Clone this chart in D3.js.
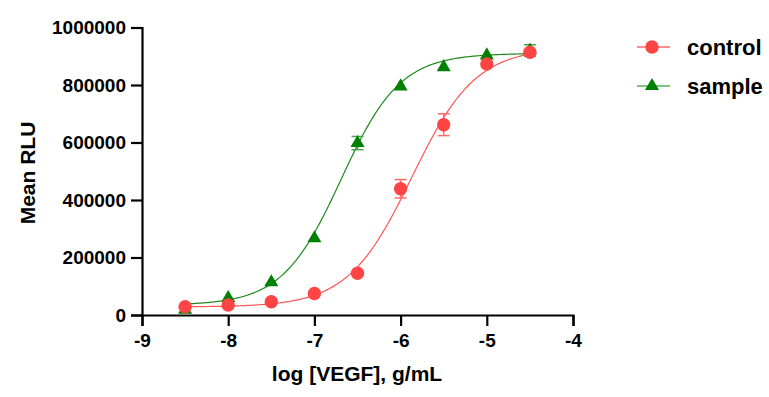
<!DOCTYPE html>
<html>
<head>
<meta charset="utf-8">
<script src="https://cdn.jsdelivr.net/npm/d3@7"></script>
<style>
  body { margin: 0; background: #fff; }
  svg text { font-family: Arial, "Liberation Sans", sans-serif; font-weight: bold; fill: #000; }
</style>
</head>
<body>
<script>
// log concentrations
const logConc = [-8.5, -8, -7.5, -7, -6.5, -6, -5.5, -5, -4.5];
const controlMean = [29000, 35000, 46000, 75000, 145000, 439000, 662000, 873000, 914000];
const controlErr = [0, 0, 0, 0, 0, 32000, 38000, 0, 0];
const sampleMean = [18000, 59000, 114000, 267000, 598000, 795000, 862000, 903000, 920000];
const sampleErr = [0, 0, 0, 0, 23000, 0, 0, 0, 20000];
// 4PL fit: bottom, top, logEC50, hill
const controlFit = [28000, 930000, -5.87, 1.17];
const sampleFit = [34000, 910000, -6.69, 1.27];
const xTicks = [-9, -8, -7, -6, -5, -4];
const yTicks = [0, 200000, 400000, 600000, 800000, 1000000];
const seriesNames = ["control", "sample"];

const w = 769;
const h = 397;
const red = "#ff4444";
const green = "#008000";

const svg = d3.select("body").append("svg").attr("width", w).attr("height", h);

const xScale = d3.scaleLinear().domain([-9, -4]).range([142, 573]);
const yScale = d3.scaleLinear().domain([0, 1000000]).range([315, 27.5]);

const fourPL = (p, x) => p[0] + (p[1] - p[0]) / (1 + Math.pow(10, (p[2] - x) * p[3]));

const line = d3.line().x((d) => xScale(d[0])).y((d) => yScale(d[1]));

const series = [
  { name: "sample", mean: sampleMean, err: sampleErr, fit: sampleFit, color: green, lineColor: "#1f8a1f", errColor: "#4aa34a", legendLine: "#7cc47c", shape: "tri" },
  { name: "control", mean: controlMean, err: controlErr, fit: controlFit, color: red, lineColor: "#ff5555", errColor: "#ff6b6b", legendLine: "#ff8c8c", shape: "circle" }
];

// curves
series.forEach((s) => {
  const pts = d3.range(-8.5, -4.5 + 1e-9, 0.02).map((x) => [x, fourPL(s.fit, x)]);
  svg.append("path").attr("d", line(pts)).attr("fill", "none")
    .attr("stroke", s.lineColor).attr("stroke-width", 1.2);
});

// error bars + markers
series.forEach((s) => {
  const g = svg.append("g");
  logConc.forEach((x, i) => {
    const e = s.err[i];
    if (!e) return;
    const cx = xScale(x);
    const y1 = yScale(s.mean[i] + e);
    const y0 = yScale(s.mean[i] - e);
    g.append("line").attr("x1", cx).attr("x2", cx).attr("y1", y1).attr("y2", y0)
      .attr("stroke", s.errColor).attr("stroke-width", 1.5);
    [y0, y1].forEach((yy) => g.append("line").attr("x1", cx - 6).attr("x2", cx + 6)
      .attr("y1", yy).attr("y2", yy).attr("stroke", s.errColor).attr("stroke-width", 1.5));
  });
  logConc.forEach((x, i) => {
    if (s.shape === "circle") {
      g.append("circle").attr("cx", xScale(x)).attr("cy", yScale(s.mean[i])).attr("r", 6.7).attr("fill", s.color);
    } else {
      g.append("path").attr("d", d3.symbol(d3.symbolTriangle, 85)())
        .attr("transform", `translate(${xScale(x)},${yScale(s.mean[i])})`).attr("fill", s.color);
    }
  });
});

// axes
const yAxis = d3.axisLeft(yScale).tickValues(yTicks).tickSizeOuter(0).tickSize(11).tickPadding(5).tickFormat((d) => String(d));
const xAxis = d3.axisBottom(xScale).tickValues(xTicks).tickSizeOuter(0).tickSize(11).tickPadding(8).tickFormat((d) => String(d).replace("\u2212", "-"));

const gy = svg.append("g").attr("transform", "translate(142,0)").call(yAxis);
const gx = svg.append("g").attr("transform", "translate(0,315)").call(xAxis);
[gx, gy].forEach((g) => {
  g.selectAll("path, line").attr("stroke", "#000").attr("stroke-width", 2.2);
  g.selectAll("text").attr("font-size", 19).attr("fill", "#000").attr("font-family", null);
});

svg.append("text").attr("transform", "translate(35,173) rotate(-90)")
  .attr("text-anchor", "middle").attr("font-size", 21).text("Mean RLU");
svg.append("text").attr("x", 357).attr("y", 381)
  .attr("text-anchor", "middle").attr("font-size", 21).text("log [VEGF], g/mL");

// legend
const legendY = [47, 86];
const legendSeries = [series[1], series[0]];
legendSeries.forEach((s, i) => {
  const y = legendY[i];
  svg.append("line").attr("x1", 637).attr("x2", 670).attr("y1", y).attr("y2", y)
    .attr("stroke", s.legendLine).attr("stroke-width", 2);
  if (s.shape === "circle") {
    svg.append("circle").attr("cx", 652).attr("cy", y).attr("r", 6.7).attr("fill", s.color);
  } else {
    svg.append("path").attr("d", d3.symbol(d3.symbolTriangle, 85)())
      .attr("transform", `translate(652,${y})`).attr("fill", s.color);
  }
  svg.append("text").attr("x", 687).attr("y", y).attr("dy", "0.35em")
    .attr("font-size", 22).text(seriesNames[i]);
});
</script>
</body>
</html>
